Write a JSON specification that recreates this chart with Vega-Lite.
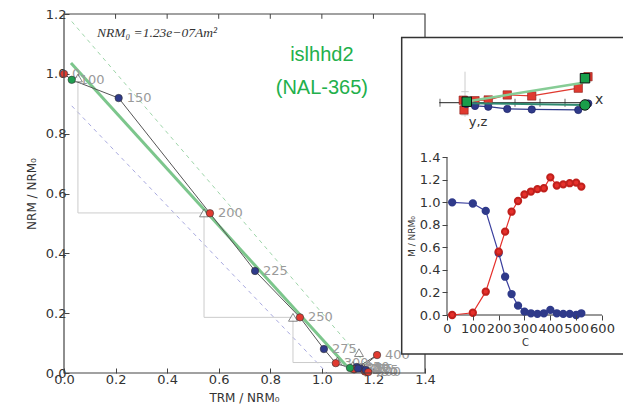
{
"$schema": "https://vega.github.io/schema/vega-lite/v6.json",
"width": 559, "height": 359,
"autosize": {"type": "none"},
"padding": {"left": 64, "top": 14, "right": 0, "bottom": 43},
"background": "white",
"config": {"view": {"stroke": null}, "axis": {"labelFont": "DejaVu Sans", "titleFont": "DejaVu Sans", "labelColor": "#333", "titleColor": "#333", "grid": false, "titleFontWeight": "normal", "labelFlush": false, "labelOverlap": false, "tickColor": "#444"}},
"datasets": {
 "one": [{"k": 1}],
 "arai": [
  {"t":0,"x":0.0,"y":1.0,"c":"r"},
  {"t":150,"x":0.212,"y":0.919,"c":"b"},
  {"t":200,"x":0.566,"y":0.534,"c":"r"},
  {"t":225,"x":0.741,"y":0.341,"c":"b"},
  {"t":250,"x":0.915,"y":0.186,"c":"r"},
  {"t":275,"x":1.008,"y":0.08,"c":"b"},
  {"t":300,"x":1.054,"y":0.033,"c":"r"},
  {"t":350,"x":1.135,"y":0.02,"c":"b"},
  {"t":375,"x":1.125,"y":0.012,"c":"r"},
  {"t":400,"x":1.214,"y":0.06,"c":"r"},
  {"t":425,"x":1.15,"y":0.015,"c":"b"},
  {"t":450,"x":1.167,"y":0.005,"c":"r"},
  {"t":475,"x":1.17,"y":0.01,"c":"b"},
  {"t":500,"x":1.18,"y":0.003,"c":"r"},
  {"t":520,"x":1.14,"y":0.015,"c":"b"},
  {"t":100,"x":0.03,"y":0.98,"c":"g"},
  {"t":325,"x":1.109,"y":0.017,"c":"g"}
 ],
 "checks": [
  {"x":0.054,"y":0.986},{"x":0.543,"y":0.535},{"x":0.888,"y":0.186},{"x":1.06,"y":0.04},{"x":1.144,"y":0.068},{"x":1.12,"y":0.025},{"x":1.16,"y":0.02}
 ],
 "stairs": [
  {"i":1,"x":0.054,"y":0.986},{"i":2,"x":0.054,"y":0.535},{"i":3,"x":0.543,"y":0.535},{"i":4,"x":0.543,"y":0.186},{"i":5,"x":0.888,"y":0.186},{"i":6,"x":0.888,"y":0.035},{"i":7,"x":1.06,"y":0.035}
 ],
 "gdash": [{"x":0.03,"y":1.175},{"x":1.2,"y":0.0}],
 "pdash": [{"x":0.03,"y":0.893},{"x":1.02,"y":0.0}],
 "fit": [{"x":0.027,"y":1.036},{"x":1.117,"y":0.003}],
 "zred": [
  {"k":1,"u":4.92,"v":1.04},{"k":2,"u":4.53,"v":0.58},{"k":3,"u":2.67,"v":0.27},{"k":4,"u":1.69,"v":0.31},{"k":5,"u":0.93,"v":0.11},{"k":6,"u":0.4,"v":0.08},{"k":7,"u":-0.07,"v":0.1},{"k":8,"u":-0.04,"v":-0.29}
 ],
 "zblue": [
  {"k":1,"u":4.93,"v":-0.03},{"k":2,"u":4.53,"v":-0.29},{"k":3,"u":2.67,"v":-0.27},{"k":4,"u":1.69,"v":-0.25},{"k":5,"u":0.93,"v":-0.16},{"k":6,"u":0.4,"v":-0.13},{"k":7,"u":0.05,"v":-0.05}
 ],
 "zgfit": [{"u":4.72,"v":0.8},{"u":0.07,"v":0.05}],
 "zbfit": [{"u":4.8,"v":-0.09},{"u":0.07,"v":-0.02}],
 "zgsq": [{"u":4.8,"v":0.98},{"u":0.07,"v":0.04}],
 "zgci": [{"u":4.8,"v":-0.09}],
 "zticks": [{"u":-1},{"u":1},{"u":2},{"u":3},{"u":4}],
 "mticks": [{"x":0.2},{"x":0.4},{"x":0.6},{"x":0.8},{"x":1.0},{"x":1.2}],
 "dblue": [
  {"t":20,"m":1.0},{"t":100,"m":0.99},{"t":150,"m":0.924},{"t":200,"m":0.55},{"t":225,"m":0.34},{"t":250,"m":0.186},{"t":275,"m":0.083},{"t":300,"m":0.03},{"t":325,"m":0.015},{"t":350,"m":0.01},{"t":375,"m":0.015},{"t":400,"m":0.045},{"t":425,"m":0.015},{"t":450,"m":0.01},{"t":475,"m":0.01},{"t":500,"m":0.0},{"t":520,"m":0.015}
 ],
 "dred": [
  {"t":20,"m":0.0},{"t":100,"m":0.02},{"t":150,"m":0.207},{"t":200,"m":0.562},{"t":225,"m":0.74},{"t":250,"m":0.917},{"t":275,"m":1.012},{"t":300,"m":1.07},{"t":325,"m":1.096},{"t":350,"m":1.117},{"t":375,"m":1.125},{"t":400,"m":1.222},{"t":425,"m":1.15},{"t":450,"m":1.16},{"t":475,"m":1.17},{"t":500,"m":1.175},{"t":520,"m":1.14}
 ]
},
"layer": [
 {
  "layer": [
   {"data": {"name": "gdash"}, "mark": {"type": "line", "color": "#9fd6aa", "strokeWidth": 1, "strokeDash": [4, 4]},
    "encoding": {
     "x": {"field": "x", "type": "quantitative", "scale": {"domain": [0, 2.16787], "nice": false, "zero": false},
       "axis": {"orient": "bottom", "values": [0,0.2,0.4,0.6,0.8,1.0,1.2,1.4], "format": ".1f", "domain": false, "tickSize": -5, "labelFontSize": 13, "labelPadding": 5, "title": "TRM / NRM₀", "titleFontSize": 12, "titlePadding": 6, "titleX": 180}},
     "y": {"field": "y", "type": "quantitative", "scale": {"domain": [0, 1.2], "nice": false, "zero": false},
       "axis": {"orient": "left", "values": [0,0.2,0.4,0.6,0.8,1.0,1.2], "format": ".1f", "domain": false, "tickSize": -5, "labelFontSize": 13, "labelPadding": 3, "title": "NRM / NRM₀", "titleFontSize": 12, "titlePadding": 7}}
    }},
   {"data": {"name": "pdash"}, "mark": {"type": "line", "color": "#a9aae0", "strokeWidth": 1, "strokeDash": [4, 4]},
    "encoding": {"x": {"field": "x", "type": "quantitative"}, "y": {"field": "y", "type": "quantitative"}}},
   {"data": {"name": "stairs"}, "mark": {"type": "line", "color": "#cccccc", "strokeWidth": 1},
    "encoding": {"x": {"field": "x", "type": "quantitative"}, "y": {"field": "y", "type": "quantitative"}, "order": {"field": "i"}}},
   {"data": {"name": "fit"}, "mark": {"type": "line", "color": "#7cc68c", "strokeWidth": 3},
    "encoding": {"x": {"field": "x", "type": "quantitative"}, "y": {"field": "y", "type": "quantitative"}}},
   {"data": {"name": "arai"}, "mark": {"type": "line", "color": "#555555", "strokeWidth": 1},
    "encoding": {"x": {"field": "x", "type": "quantitative"}, "y": {"field": "y", "type": "quantitative"}, "order": {"field": "t"}}},
   {"data": {"name": "arai"}, "mark": {"type": "text", "align": "left", "baseline": "middle", "dx": 8, "fontSize": 13, "font": "DejaVu Sans", "color": "#9a9a9a"},
    "encoding": {"x": {"field": "x", "type": "quantitative"}, "y": {"field": "y", "type": "quantitative"}, "text": {"field": "t"}}},
   {"data": {"name": "checks"}, "mark": {"type": "point", "shape": "triangle-up", "filled": true, "fill": "white", "stroke": "#555555", "strokeWidth": 1, "size": 80},
    "encoding": {"x": {"field": "x", "type": "quantitative"}, "y": {"field": "y", "type": "quantitative"}}},
   {"data": {"name": "arai"}, "mark": {"type": "point", "shape": "circle", "filled": true, "size": 55, "stroke": "#333333", "strokeWidth": 0.6, "opacity": 1},
    "encoding": {"x": {"field": "x", "type": "quantitative"}, "y": {"field": "y", "type": "quantitative"},
     "color": {"field": "c", "type": "nominal", "scale": {"domain": ["b", "r", "g"], "range": ["#2f3a8a", "#e03a30", "#1f9e50"]}, "legend": null}}},
   {"data": {"name": "one"}, "mark": {"type": "text", "align": "left", "baseline": "middle", "font": "Liberation Serif", "fontStyle": "italic", "fontSize": 13.5, "color": "#333", "text": "NRM₀ =1.23e−07Am²"},
    "encoding": {"x": {"datum": 0.128, "type": "quantitative"}, "y": {"datum": 1.137, "type": "quantitative"}}},
   {"data": {"name": "one"}, "mark": {"type": "text", "align": "center", "baseline": "middle", "font": "Liberation Sans", "fontSize": 20, "color": "#22b04b", "text": "islhhd2"},
    "encoding": {"x": {"datum": 1.0, "type": "quantitative"}, "y": {"datum": 1.064, "type": "quantitative"}}},
   {"data": {"name": "one"}, "mark": {"type": "text", "align": "center", "baseline": "middle", "font": "Liberation Sans", "fontSize": 20, "color": "#22b04b", "text": "(NAL-365)"},
    "encoding": {"x": {"datum": 1.0, "type": "quantitative"}, "y": {"datum": 0.953, "type": "quantitative"}}},
   {"data": {"name": "mticks"}, "mark": {"type": "rule", "color": "#444444", "strokeWidth": 1},
    "encoding": {"x": {"field": "x", "type": "quantitative"}, "y": {"datum": 1.2, "type": "quantitative"}, "y2": {"datum": 1.184}}},
   {"data": {"name": "one"}, "mark": {"type": "rect", "fill": null, "fillOpacity": 0, "stroke": "#444444", "strokeWidth": 1.2},
    "encoding": {"x": {"datum": 0, "type": "quantitative"}, "x2": {"datum": 1.4}, "y": {"datum": 0, "type": "quantitative"}, "y2": {"datum": 1.2}}},
   {"data": {"name": "one"}, "mark": {"type": "rect", "fill": "white", "stroke": "#333333", "strokeWidth": 1.5},
    "encoding": {"x": {"datum": 1.3096, "type": "quantitative"}, "x2": {"datum": 2.3}, "y": {"datum": 0.0635, "type": "quantitative"}, "y2": {"datum": 1.1214}}}
  ]
 },
 {
  "layer": [
   {"data": {"name": "one"}, "mark": {"type": "rule", "color": "#cccccc", "strokeWidth": 1},
    "encoding": {"x": {"datum": 0, "type": "quantitative", "scale": {"domain": [-16.04, 6.32], "nice": false, "zero": false}, "axis": null}, "y": {"datum": -0.56, "type": "quantitative", "scale": {"domain": [-10.812, 3.548], "nice": false, "zero": false}, "axis": null}, "y2": {"datum": 1.24}}},
   {"data": {"name": "one"}, "mark": {"type": "rule", "color": "#cccccc", "strokeWidth": 1},
    "encoding": {"x": {"datum": -0.15, "type": "quantitative"}, "x2": {"datum": 0.15}, "y": {"datum": 0.44, "type": "quantitative"}}},
   {"data": {"name": "one"}, "mark": {"type": "rule", "color": "#cccccc", "strokeWidth": 1},
    "encoding": {"x": {"datum": -0.15, "type": "quantitative"}, "x2": {"datum": 0.15}, "y": {"datum": -0.49, "type": "quantitative"}}},
   {"data": {"name": "one"}, "mark": {"type": "rule", "color": "#222222", "strokeWidth": 1},
    "encoding": {"x": {"datum": -1.03, "type": "quantitative"}, "x2": {"datum": 5.07}, "y": {"datum": 0, "type": "quantitative"}}},
   {"data": {"name": "zticks"}, "mark": {"type": "tick", "orient": "vertical", "size": 8, "thickness": 1, "color": "#222222"},
    "encoding": {"x": {"field": "u", "type": "quantitative"}, "y": {"datum": 0, "type": "quantitative"}}},
   {"data": {"name": "zred"}, "mark": {"type": "line", "color": "#e03a30", "strokeWidth": 1.2},
    "encoding": {"x": {"field": "u", "type": "quantitative"}, "y": {"field": "v", "type": "quantitative"}, "order": {"field": "k"}}},
   {"data": {"name": "zred"}, "mark": {"type": "point", "shape": "square", "filled": true, "fill": "#e03a30", "stroke": "#8a1f1a", "strokeWidth": 0.6, "size": 70, "opacity": 1},
    "encoding": {"x": {"field": "u", "type": "quantitative"}, "y": {"field": "v", "type": "quantitative"}}},
   {"data": {"name": "zgfit"}, "mark": {"type": "line", "color": "#86cc95", "strokeWidth": 2.5},
    "encoding": {"x": {"field": "u", "type": "quantitative"}, "y": {"field": "v", "type": "quantitative"}}},
   {"data": {"name": "zblue"}, "mark": {"type": "line", "color": "#2f3a8a", "strokeWidth": 1.2},
    "encoding": {"x": {"field": "u", "type": "quantitative"}, "y": {"field": "v", "type": "quantitative"}, "order": {"field": "k"}}},
   {"data": {"name": "zblue"}, "mark": {"type": "point", "shape": "circle", "filled": true, "fill": "#2f3a8a", "stroke": "#1a2060", "strokeWidth": 0.6, "size": 55, "opacity": 1},
    "encoding": {"x": {"field": "u", "type": "quantitative"}, "y": {"field": "v", "type": "quantitative"}}},
   {"data": {"name": "zbfit"}, "mark": {"type": "line", "color": "#2f8a70", "strokeWidth": 2},
    "encoding": {"x": {"field": "u", "type": "quantitative"}, "y": {"field": "v", "type": "quantitative"}}},
   {"data": {"name": "zgsq"}, "mark": {"type": "point", "shape": "square", "filled": true, "fill": "#1a9e4a", "stroke": "#111111", "strokeWidth": 1, "size": 90, "opacity": 1},
    "encoding": {"x": {"field": "u", "type": "quantitative"}, "y": {"field": "v", "type": "quantitative"}}},
   {"data": {"name": "zgci"}, "mark": {"type": "point", "shape": "circle", "filled": true, "fill": "#1a9e4a", "stroke": "#111111", "strokeWidth": 1, "size": 110, "opacity": 1},
    "encoding": {"x": {"field": "u", "type": "quantitative"}, "y": {"field": "v", "type": "quantitative"}}},
   {"data": {"name": "one"}, "mark": {"type": "text", "align": "left", "baseline": "middle", "font": "DejaVu Sans", "fontSize": 14, "color": "#333", "text": "x"},
    "encoding": {"x": {"datum": 5.2, "type": "quantitative"}, "y": {"datum": 0.1, "type": "quantitative"}}},
   {"data": {"name": "one"}, "mark": {"type": "text", "align": "left", "baseline": "top", "font": "DejaVu Sans", "fontSize": 13, "color": "#333", "text": "y,z"},
    "encoding": {"x": {"datum": 0.15, "type": "quantitative"}, "y": {"datum": -0.55, "type": "quantitative"}}}
  ]
 },
 {
  "layer": [
   {"data": {"name": "dblue"}, "mark": {"type": "line", "color": "#3a3f9e", "strokeWidth": 1.2},
    "encoding": {
     "x": {"field": "t", "type": "quantitative", "scale": {"domain": [-1482.6, 681.3], "nice": false, "zero": false},
       "axis": {"orient": "bottom", "offset": -58, "zindex": 2, "values": [0,100,200,300,400,500,600], "domain": false, "tickSize": 5, "labelFontSize": 13, "labelPadding": 2, "title": "C", "titleFontSize": 10, "titlePadding": 2, "titleX": 461}},
     "y": {"field": "m", "type": "quantitative", "scale": {"domain": [-0.5149, 2.6722], "nice": false, "zero": false},
       "axis": {"orient": "left", "offset": -383, "zindex": 2, "values": [0,0.2,0.4,0.6,0.8,1.0,1.2,1.4], "format": ".1f", "domain": false, "tickSize": 5, "labelFontSize": 13, "labelPadding": 2, "title": "M / NRM₀", "titleFontSize": 9, "titlePadding": 3, "titleY": 222}}
    }},
   {"data": {"name": "one"}, "mark": {"type": "rule", "color": "#333333", "strokeWidth": 1},
    "encoding": {"x": {"datum": 0, "type": "quantitative"}, "x2": {"datum": 600}, "y": {"datum": 0, "type": "quantitative"}}},
   {"data": {"name": "one"}, "mark": {"type": "rule", "color": "#333333", "strokeWidth": 1},
    "encoding": {"x": {"datum": 0, "type": "quantitative"}, "y": {"datum": 0, "type": "quantitative"}, "y2": {"datum": 1.4}}},
   {"data": {"name": "dblue"}, "mark": {"type": "point", "shape": "circle", "filled": true, "fill": "#2f3a8a", "stroke": "#2f3a8a", "size": 40, "opacity": 1},
    "encoding": {"x": {"field": "t", "type": "quantitative"}, "y": {"field": "m", "type": "quantitative"}}},
   {"data": {"name": "dred"}, "mark": {"type": "line", "color": "#e6302b", "strokeWidth": 1.2},
    "encoding": {"x": {"field": "t", "type": "quantitative"}, "y": {"field": "m", "type": "quantitative"}}},
   {"data": {"name": "dred"}, "mark": {"type": "point", "shape": "circle", "filled": true, "fill": "#e6302b", "stroke": "#c0201c", "size": 40, "opacity": 1},
    "encoding": {"x": {"field": "t", "type": "quantitative"}, "y": {"field": "m", "type": "quantitative"}}}
  ]
 }
],
"resolve": {"scale": {"x": "independent", "y": "independent"}}
}
